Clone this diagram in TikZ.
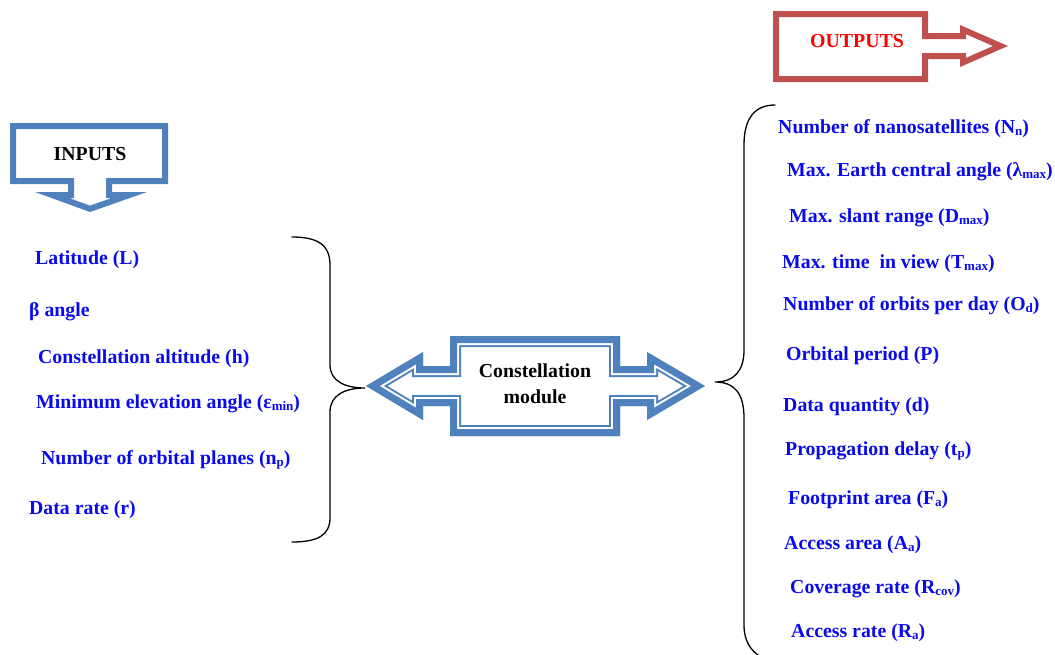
\documentclass[tikz,border=0pt]{standalone}
\usepackage{fontspec}
\setmainfont{Liberation Serif}
\definecolor{shapeblue}{RGB}{79,129,189}
\definecolor{shapered}{RGB}{192,80,77}
\definecolor{txtblue}{RGB}{10,10,235}
\definecolor{txtred}{RGB}{255,0,0}
\newcommand\lsub[1]{\raisebox{-0.22ex}{\fontsize{13}{13}\selectfont #1}}
\newcommand\cpath{(366,386) -- (423,352) -- (423,366) -- (450,366) -- (450,336) -- (620,336) -- (620,366) -- (647,366) -- (647,352) -- (705,386) -- (647,420) -- (647,406) -- (620,406) -- (620,436) -- (450,436) -- (450,406) -- (423,406) -- (423,420) -- cycle}
\newcommand\ipath{(10,123) -- (168,123) -- (168,184) -- (112,184) -- (112,192) -- (147,192) -- (90,212) -- (35,192) -- (68,192) -- (68,184) -- (10,184) -- cycle}
\newcommand\opath{(773,11) -- (928,11) -- (928,33) -- (960,33) -- (960,25) -- (1008,46) -- (960,67) -- (960,59) -- (928,59) -- (928,82) -- (773,82) -- cycle}
\tikzset{
  lbl/.style={anchor=west, inner sep=0pt, text height=14pt, text depth=4pt, text=txtblue, font=\fontsize{19.8}{22}\selectfont\bfseries},
  title/.style={inner sep=0pt, font=\fontsize{19.8}{26}\selectfont\bfseries, align=center},
  brace/.style={draw=black, line width=1.3pt, line cap=round}
}
\begin{document}
\begin{tikzpicture}[x=1pt,y=-1pt, line join=miter]
\useasboundingbox (0,0) rectangle (1055,654);
% central double arrow
\begin{scope}
  \clip \cpath;
  \draw[line width=22pt, shapeblue] \cpath;
  \draw[line width=18pt, white] \cpath;
  \draw[line width=14pt, shapeblue] \cpath;
\end{scope}
% inputs arrow
\begin{scope}
  \clip \ipath;
  \draw[line width=12pt, shapeblue] \ipath;
\end{scope}
% outputs arrow
\begin{scope}
  \clip \opath;
  \draw[line width=12pt, shapered] \opath;
\end{scope}
\node[title] (inp) at (90,154) {INPUTS};
\node[title, text=txtred] (outp) at (857,41) {OUTPUTS};
\node[title] (mod) at (535,384) {Constellation\\module};
% braces
\draw[brace] (292,237) .. controls (318,237) and (330,245) .. (330,265) -- (330,365) .. controls (330,381) and (345,388) .. (365,388)
  .. controls (345,388) and (330,395) .. (330,412) -- (330,518) .. controls (330,535) and (318,542) .. (292,542);
\draw[brace] (775,105) .. controls (755,105) and (744,118) .. (744,145) -- (744,350) .. controls (744,370) and (735,382) .. (715,382)
  .. controls (735,382) and (744,394) .. (744,418) -- (744,625) .. controls (744,645) and (755,658) .. (775,662);
% inputs
\node[lbl] (i1) at (35,259) {Latitude (L)};
\node[lbl] (i2) at (29,311) {β angle};
\node[lbl] (i3) at (38,358) {Constellation altitude (h)};
\node[lbl] (i4) at (36,403) {Minimum elevation angle (ε\lsub{min})};
\node[lbl] (i5) at (41,459) {Number of orbital planes (n\lsub{p})};
\node[lbl] (i6) at (29,509) {Data rate (r)};
% outputs
\node[lbl] (o1) at (778,128) {Number of nanosatellites (N\lsub{n})};
\node[lbl] (o2) at (787,171) {Max. Earth central angle (λ\lsub{max})};
\node[lbl] (o3) at (789,217) {Max. slant range (D\lsub{max})};
\node[lbl] (o4) at (782,263) {Max. time\ \ in view (T\lsub{max})};
\node[lbl] (o5) at (783,305) {Number of orbits per day (O\lsub{d})};
\node[lbl] (o6) at (786,355) {Orbital period (P)};
\node[lbl] (o7) at (783,406) {Data quantity (d)};
\node[lbl] (o8) at (785,450) {Propagation delay (t\lsub{p})};
\node[lbl] (o9) at (788,499) {Footprint area (F\lsub{a})};
\node[lbl] (o10) at (784,544) {Access area (A\lsub{a})};
\node[lbl] (o11) at (790,588) {Coverage rate (R\lsub{cov})};
\node[lbl] (o12) at (791,632) {Access rate (R\lsub{a})};
\end{tikzpicture}
\end{document}
